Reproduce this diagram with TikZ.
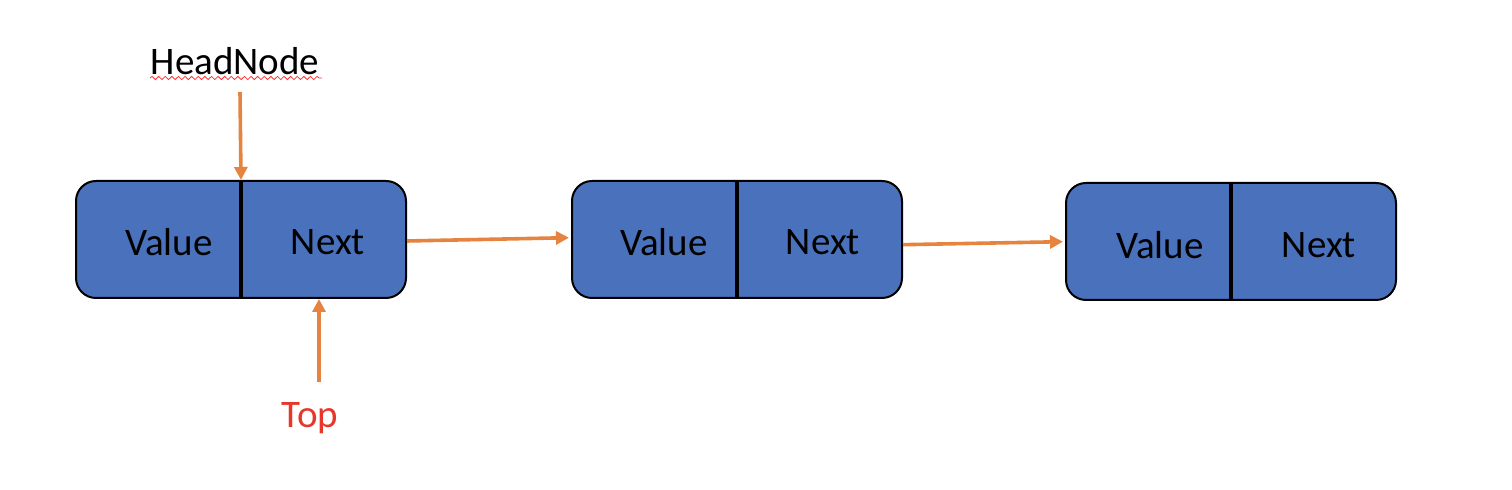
\documentclass[tikz,border=0pt]{standalone}
\usepackage{fontspec}
\setmainfont{Carlito}
\usepackage{tikz}
\usetikzlibrary{arrows.meta,decorations.pathmorphing}
\definecolor{boxblue}{HTML}{4A72BC}
\definecolor{linkorange}{HTML}{E5833F}
\definecolor{topred}{HTML}{E8362B}

\begin{document}
\begin{tikzpicture}[x=0.5pt,y=0.5pt,>={Triangle[length=6.5pt,width=6.5pt]},
    font=\fontsize{19.5}{21}\selectfont,
    listbox/.style={draw=black,line width=1pt,fill=boxblue,rounded corners=10pt,
      minimum width=165pt,minimum height=58.5pt,inner sep=0pt},
    link/.style={->,draw=linkorange,line width=1.8pt},
    spell/.style={draw=red!80,line width=0.4pt,decorate,
      decoration={snake,segment length=3.3pt,amplitude=0.8pt}}]
  \useasboundingbox (0,0) rectangle (1512,490);

  % the three list nodes
  \node[listbox] (b1) at (241,250.5) {};
  \node[listbox] (b2) at (737,250.5) {};
  \node[listbox] (b3) at (1231,248.5) {};
  \foreach \b in {b1,b2,b3}
    \draw[line width=1.6pt] (\b.north) -- (\b.south);

  \node (v1) at (169,248) {Value};
  \node (n1) at (328,248) {Next};
  \node (v2) at (664,248) {Value};
  \node (n2) at (823,248) {Next};
  \node (v3) at (1160,245) {Value};
  \node (n3) at (1319,245) {Next};

  % pointers
  \node (head) at (235,429) {HeadNode};
  \node[text=topred] (top) at (310,72) {Top};
  \coordinate (sl) at (150,412);
  \coordinate (sr) at (322,412);
  \coordinate (hs) at (240,398);
  \coordinate (ts) at (319,108);
  \draw[spell] (sl) -- (sr);

  \draw[link] (hs) -- (b1.north);
  \draw[link] (ts) -- ([xshift=39pt]b1.south);
  \draw[link] ([yshift=-0.75pt]b1.east) -- ([xshift=-1pt,yshift=0.9pt]b2.west);
  \draw[link] ([yshift=-2.6pt]b2.east) -- ([xshift=-1pt,yshift=-0.1pt]b3.west);
\end{tikzpicture}
\end{document}
